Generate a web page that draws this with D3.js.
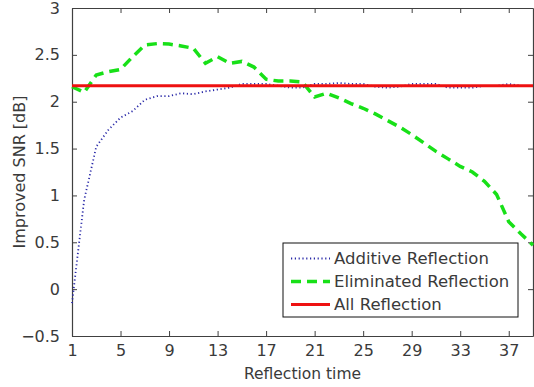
<!DOCTYPE html>
<html>
<head>
<meta charset="utf-8">
<script src="https://cdn.jsdelivr.net/npm/d3@7"></script>
<style>
  body { margin: 0; background: #fff; }
  svg { display: block; font-family: "DejaVu Sans", sans-serif; }
</style>
</head>
<body>
<svg id="chart" width="534" height="387"></svg>
<script>
// reflection time 1..39
const reflectionTimes = d3.range(1, 40);
const additiveRefl = [-0.15, 0.95, 1.52, 1.70, 1.83, 1.90, 2.02, 2.06, 2.06, 2.09,
    2.08, 2.11, 2.13, 2.15, 2.19, 2.19, 2.19, 2.17, 2.15, 2.15,
    2.19, 2.19, 2.20, 2.19, 2.19, 2.16, 2.15, 2.16, 2.19, 2.19,
    2.19, 2.15, 2.15, 2.15, 2.17, 2.17, 2.19, 2.17, 2.17];
const eliminatedRefl = [2.16, 2.10, 2.285, 2.32, 2.345, 2.48, 2.605, 2.62, 2.615, 2.595,
    2.57, 2.41, 2.48, 2.41, 2.43, 2.37, 2.24, 2.22, 2.22, 2.21,
    2.05, 2.09, 2.04, 1.98, 1.93, 1.87, 1.80, 1.73, 1.65, 1.56,
    1.47, 1.39, 1.31, 1.25, 1.15, 1.01, 0.72, 0.59, 0.47];
const allRefl = 2.17;
const xTicks = [1, 5, 9, 13, 17, 21, 25, 29, 33, 37];
const yTicks = [-0.5, 0, 0.5, 1, 1.5, 2, 2.5, 3];
const seriesNames = ["Additive Reflection", "Eliminated Reflection", "All Reflection"];

let svg = d3.select("#chart");
let margin = {top: 8, right: 1, bottom: 51, left: 72};
let width = +svg.attr("width") - margin.left - margin.right;
let height = +svg.attr("height") - margin.top - margin.bottom;
let g = svg.append("g").attr("transform", "translate(" + margin.left + "," + margin.top + ")");

let x = d3.scaleLinear().domain([1, 39]).range([0, width]);
let y = d3.scaleLinear().domain([-0.5, 3]).range([height, 0]);

let axisColor = "#404040";
let textColor = "#3a3a3a";

// axes: ticks pointing inward like matlab
let xAxis = g.append("g").attr("transform", "translate(0," + height + ")")
    .call(d3.axisBottom(x).tickValues(xTicks).tickSizeInner(-5).tickSizeOuter(0).tickPadding(9).tickFormat(d3.format("d")));
let xTop = g.append("g")
    .call(d3.axisTop(x).tickValues(xTicks).tickSizeInner(-5).tickSizeOuter(0).tickFormat(""));
let yAxis = g.append("g")
    .call(d3.axisLeft(y).tickValues(yTicks).tickSizeInner(-5).tickSizeOuter(0).tickPadding(12)
        .tickFormat(d => d < 0 ? "\u2212" + Math.abs(d) : d));
let yRight = g.append("g").attr("transform", "translate(" + width + ",0)")
    .call(d3.axisRight(y).tickValues(yTicks).tickSizeInner(-5).tickSizeOuter(0).tickFormat(""));

[xAxis, xTop, yAxis, yRight].forEach(a => {
    a.selectAll("path").attr("stroke", axisColor).attr("stroke-width", 1.2);
    a.selectAll("line").attr("stroke", axisColor);
    a.selectAll("text").attr("fill", textColor).attr("font-size", 16)
        .attr("font-family", "DejaVu Sans, sans-serif");
});

// lines
let line = d3.line().x((d, i) => x(reflectionTimes[i])).y(d => y(d));

g.append("path")
    .datum(eliminatedRefl)
    .attr("fill", "none")
    .attr("stroke", "#18e018")
    .attr("stroke-width", 3.5)
    .attr("stroke-dasharray", "10,6")
    .attr("d", line);

g.append("path")
    .datum(additiveRefl)
    .attr("fill", "none")
    .attr("stroke", "#2a2aa8")
    .attr("stroke-width", 1.8)
    .attr("stroke-dasharray", "1.2,2.6")
    .attr("d", line);

g.append("path")
    .datum(reflectionTimes.map(() => allRefl))
    .attr("fill", "none")
    .attr("stroke", "#ee1111")
    .attr("stroke-width", 3)
    .attr("d", line);

// axis titles
svg.append("text")
    .attr("x", margin.left + x(20))
    .attr("y", 379)
    .attr("text-anchor", "middle")
    .attr("font-size", 15.5)
    .attr("fill", textColor)
    .text("Reflection time");

svg.append("text")
    .attr("transform", "translate(25," + (margin.top + y(1.25)) + ") rotate(-90)")
    .attr("text-anchor", "middle")
    .attr("font-size", 16)
    .attr("fill", textColor)
    .text("Improved SNR [dB]");

// legend
let legend = g.append("g").attr("transform", "translate(" + (283 - margin.left) + "," + (243 - margin.top) + ")");
legend.append("rect")
    .attr("width", 235)
    .attr("height", 74)
    .attr("fill", "#fff")
    .attr("stroke", "#111")
    .attr("stroke-width", 1);

let legendStyles = [
    {stroke: "#2a2aa8", w: 1.8, dash: "1.2,2.6"},
    {stroke: "#18e018", w: 3.5, dash: "10,6"},
    {stroke: "#ee1111", w: 3, dash: null}
];

let items = legend.selectAll("g.item")
    .data(seriesNames)
    .enter().append("g")
    .attr("class", "item")
    .attr("transform", (d, i) => "translate(0," + (15.5 + i * 23) + ")");

items.append("line")
    .attr("x1", 8).attr("x2", 47)
    .attr("stroke", (d, i) => legendStyles[i].stroke)
    .attr("stroke-width", (d, i) => legendStyles[i].w)
    .attr("stroke-dasharray", (d, i) => legendStyles[i].dash);

items.append("text")
    .attr("x", 51)
    .attr("dy", "0.36em")
    .attr("font-size", 16.5)
    .attr("fill", textColor)
    .text(d => d);
</script>
</body>
</html>
